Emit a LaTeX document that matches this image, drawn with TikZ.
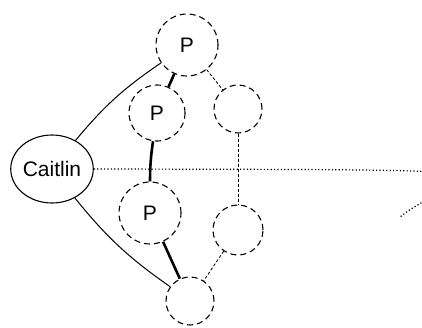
\documentclass[tikz,border=0pt]{standalone}
\usepackage{fontspec}
\setmainfont{Liberation Sans}
\usetikzlibrary{shapes.geometric}
\begin{document}
\begin{tikzpicture}[x=1pt,y=-1pt,
  every node/.style={font=\fontsize{21}{25}\selectfont, inner sep=0pt},
  pnode/.style={circle, draw, line width=1.1pt, dash pattern=on 6pt off 4pt},
  link/.style={line width=1pt},
  heavy/.style={line width=2.6pt},
  faint/.style={line width=0.8pt, dash pattern=on 3pt off 2pt},
  trail/.style={line width=1.2pt, dash pattern=on 1.2pt off 2.2pt}]
\useasboundingbox (0,0) rectangle (422,327);
\clip (0,0) rectangle (422,327);

\node[ellipse, draw, line width=1.1pt, minimum width=82, minimum height=68] (c) at (52,169) {Caitlin};

\node[pnode, minimum size=62] (p1) at (187,45) {P};
\node[pnode, minimum size=56] (p2) at (157,113) {P};
\node[pnode, minimum size=62] (p3) at (150,213) {P};
\node[pnode, minimum size=48] (b) at (190,301) {};
\node[pnode, minimum size=48] (r1) at (238,109) {};
\node[pnode, minimum size=50] (r2) at (238,230) {};

% the dotted trail leaves the frame on the right and hooks back in
\coordinate (tail) at (400,217);

\draw[link] (c) to[bend left=8] (p1);
\draw[link] (c) to[bend right=8] (b);
\draw[heavy] (p1) -- (p2);
\draw[heavy] (p2) to[bend right=4] (p3);
\draw[heavy] (p3) -- (b);
\draw[faint] (p1) -- (r1);
\draw[faint] (r1) -- (r2);
\draw[faint] (r2) -- (b);
\draw[trail] (c.east) .. controls (600,170) and (460,168) .. (tail);
\end{tikzpicture}
\end{document}
